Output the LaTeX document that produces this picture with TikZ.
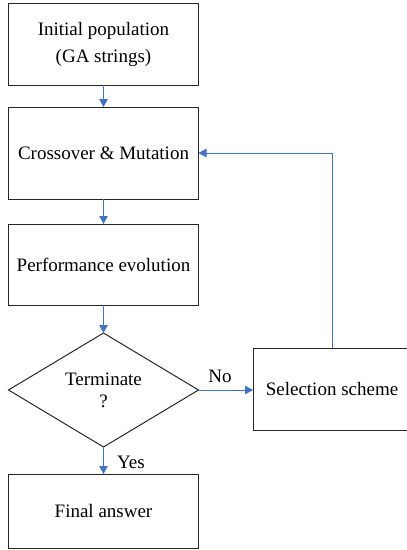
\documentclass[tikz,border=0pt]{standalone}
\usepackage{fontspec}
\setmainfont{Liberation Serif}
\usetikzlibrary{arrows.meta,shapes.geometric}
\definecolor{arrowblue}{HTML}{4472C4}
\tikzset{
  box/.style={draw=black!85, line width=1pt, rectangle, minimum width=190pt, inner sep=0pt, outer sep=0pt, align=center, font=\fontsize{19}{27}\selectfont},
  decision/.style={draw=black!85, line width=1pt, diamond, minimum width=190pt, minimum height=114pt, inner sep=0pt, outer sep=0pt, align=center, font=\fontsize{19}{22}\selectfont},
  flow/.style={draw=arrowblue, line width=1pt, -{Triangle[length=8pt,width=8.5pt]}},
  lbl/.style={font=\fontsize{19}{22}\selectfont, inner sep=0pt}
}
\begin{document}
\begin{tikzpicture}[x=1pt,y=-1pt]
\useasboundingbox (0,0) rectangle (407,550);
\node[box, minimum height=82pt] (init) at (103.5,44) {Initial population\\(GA strings)};
\node[box, minimum height=92pt] (cross) at (103.5,153) {Crossover \& Mutation};
\node[box, minimum height=81pt] (perf) at (103.5,264.5) {Performance evolution};
\node[decision] (term) at (103.5,390) {Terminate\\?};
\node[box, minimum height=74pt] (final) at (103.5,511) {Final answer};
\node[box, minimum width=158pt, minimum height=82pt] (sel) at (332,389) {Selection scheme};
\coordinate (corner) at (sel.north |- cross.east);
\draw[flow] (init.south) -- (cross.north);
\draw[flow] (cross.south) -- (perf.north);
\draw[flow] (perf.south) -- (term.north);
\draw[flow] (term.south) -- (final.north);
\draw[flow] (term.east) -- (sel.west |- term.east);
\draw[flow] (sel.north) -- (corner) -- (cross.east);
\node[lbl] (no) at (220,376) {No};
\node[lbl] (yes) at (131,462) {Yes};
\end{tikzpicture}
\end{document}
